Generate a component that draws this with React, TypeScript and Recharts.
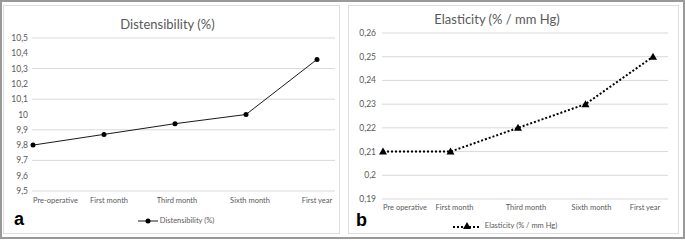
import { LineChart, Line, XAxis, YAxis, CartesianGrid, Legend } from "recharts";

const distPeriods = ["Pre-operative", "First month", "Third month", "Sixth month", "First year"];
const elastPeriods = ["Pre operative", "First month", "Third month", "Sixth month", "First year"];
const distensibility = [9.8, 9.87, 9.94, 10.0, 10.36];
const elasticity = [0.21, 0.21, 0.22, 0.23, 0.25];
const distTicks = [9.5, 9.6, 9.7, 9.8, 9.9, 10, 10.1, 10.2, 10.3, 10.4, 10.5];
const elastTicks = [0.19, 0.2, 0.21, 0.22, 0.23, 0.24, 0.25, 0.26];

const distData = distPeriods.map((p, i) => ({ period: p, value: distensibility[i] }));
const elastData = elastPeriods.map((p, i) => ({ period: p, value: elasticity[i] }));

const FONT = "Lato, 'Open Sans', sans-serif";
const TEXT = "#595959";
const GRID = "#d9d9d9";

const comma = (v: number) => String(Number(v.toFixed(2))).replace(".", ",");

// excel nudges the category labels a little, copy that
const PeriodTick = ({ x, y, payload, index, shifts }: any) => (
  <text
    x={x + (shifts ? shifts[index] : 0)}
    y={y}
    dy="0.71em"
    textAnchor={index === 0 ? "start" : "middle"}
    fill={TEXT}
    fontSize={7.5}
    fontFamily={FONT}
  >
    {payload.value}
  </text>
);

const Triangle = ({ cx, cy }: any) => {
  if (cx == null || cy == null) return null;
  return <path d={`M${cx},${cy - 4} L${cx + 4},${cy + 3} L${cx - 4},${cy + 3} Z`} fill="#000" />;
};

const DistLegend = () => (
  <div style={{ display: "flex", justifyContent: "center", alignItems: "center", fontFamily: FONT, fontSize: 7.5, color: TEXT }}>
    <svg width={20} height={8} style={{ marginRight: 2 }}>
      <line x1={0} y1={4} x2={20} y2={4} stroke="#1a1a1a" strokeWidth={1} />
      <circle cx={10} cy={4} r={2.5} fill="#000" />
    </svg>
    Distensibility (%)
  </div>
);

const ElastLegend = () => (
  <div style={{ display: "flex", justifyContent: "center", alignItems: "center", fontFamily: FONT, fontSize: 7.5, color: TEXT }}>
    <svg width={28} height={9} style={{ marginRight: 4 }}>
      <line x1={0} y1={6} x2={28} y2={6} stroke="#000" strokeWidth={2} strokeDasharray="2 2" />
      <path d="M14,1 L18,8 L10,8 Z" fill="#000" />
    </svg>
    Elasticity (% / mm Hg)
  </div>
);

const App = () => {
  return (
    <div style={{ position: "absolute", left: 0, top: 0, width: 685, height: 241, background: "#fff" }}>
      <div style={{ position: "absolute", left: 0, top: 0, width: 685, height: 239, boxSizing: "border-box", border: "2px solid #999" }} />
      <div style={{ position: "absolute", left: 3, top: 5, width: 337, height: 229, boxSizing: "border-box", border: "1px solid #dedede" }} />
      <div style={{ position: "absolute", left: 348, top: 5, width: 331, height: 229, boxSizing: "border-box", border: "1px solid #dedede" }} />

      <div style={{ position: "absolute", left: 0, top: 0 }}>
        <LineChart width={340} height={241} data={distData} margin={{ top: 38, right: 5, left: 0, bottom: 30 }}>
          <CartesianGrid vertical={false} stroke={GRID} />
          <XAxis
            dataKey="period"
            axisLine={false}
            tickLine={false}
            tickSize={0}
            tickMargin={7}
            height={20}
            padding={{ left: 1, right: 18 }}
            interval={0}
            tick={<PeriodTick shifts={[0, 5, 2, 4, 0]} />}
          />
          <YAxis
            domain={[9.5, 10.5]}
            ticks={distTicks}
            axisLine={false}
            tickLine={false}
            tickSize={0}
            tickMargin={4}
            width={32}
            tickFormatter={comma}
            tick={{ fill: TEXT, fontSize: 8.5, fontFamily: FONT }}
          />
          <Legend
            verticalAlign="middle"
            align="center"
            wrapperStyle={{ top: 216, left: 0, width: 352 }}
            content={<DistLegend />}
          />
          <Line
            dataKey="value"
            name="Distensibility (%)"
            stroke="#1a1a1a"
            strokeWidth={1}
            dot={{ r: 2.5, fill: "#000", stroke: "#000", strokeWidth: 0 }}
            isAnimationActive={false}
          />
        </LineChart>
      </div>

      <div style={{ position: "absolute", left: 340, top: 0 }}>
        <LineChart width={345} height={241} data={elastData} margin={{ top: 33, right: 17, left: 0, bottom: 22 }}>
          <CartesianGrid vertical={false} stroke={GRID} />
          <XAxis
            dataKey="period"
            axisLine={false}
            tickLine={false}
            tickSize={0}
            tickMargin={6}
            height={20}
            padding={{ left: 1, right: 15 }}
            interval={0}
            tick={<PeriodTick shifts={[0, 4, 8, 6, -8]} />}
          />
          <YAxis
            domain={[0.19, 0.26]}
            ticks={elastTicks}
            axisLine={false}
            tickLine={false}
            tickSize={0}
            tickMargin={6}
            width={42}
            tickFormatter={comma}
            tick={{ fill: TEXT, fontSize: 8.5, fontFamily: FONT }}
          />
          <Legend
            verticalAlign="middle"
            align="center"
            wrapperStyle={{ top: 221, left: 0, width: 330 }}
            content={<ElastLegend />}
          />
          <Line
            dataKey="value"
            name="Elasticity (% / mm Hg)"
            stroke="#000"
            strokeWidth={2}
            strokeDasharray="2 2"
            dot={<Triangle />}
            isAnimationActive={false}
          />
        </LineChart>
      </div>

      <div style={{ position: "absolute", left: 0, width: 335, top: 16, textAlign: "center", fontFamily: FONT, fontSize: 13, color: TEXT }}>
        Distensibility (%)
      </div>
      <div style={{ position: "absolute", left: 340, width: 314, top: 11, textAlign: "center", fontFamily: FONT, fontSize: 13, color: TEXT }}>
        Elasticity (% / mm Hg)
      </div>
      <div style={{ position: "absolute", left: 14, top: 209, fontFamily: "Arial, 'Liberation Sans', sans-serif", fontWeight: "bold", fontSize: 18, color: "#000" }}>
        a
      </div>
      <div style={{ position: "absolute", left: 356, top: 210, fontFamily: "Arial, 'Liberation Sans', sans-serif", fontWeight: "bold", fontSize: 18, color: "#000" }}>
        b
      </div>
    </div>
  );
};

export default App;
